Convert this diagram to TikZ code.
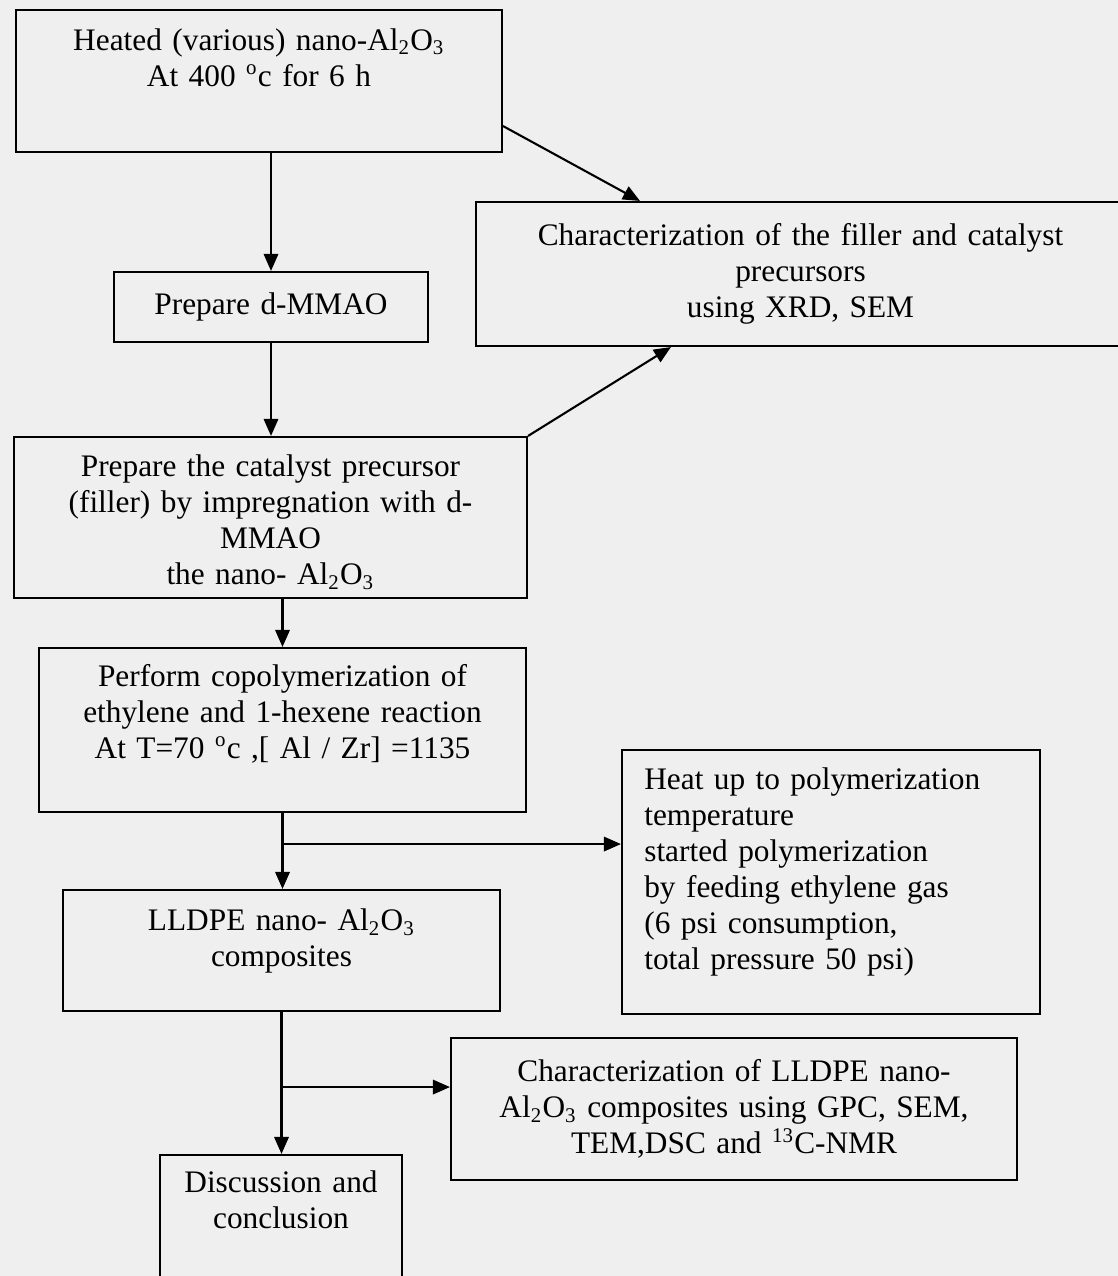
\documentclass[tikz,border=0pt]{standalone}
\usepackage{fontspec}
\setmainfont{Liberation Serif}
\usepackage{tikz}
\usepackage{xcolor}
\usetikzlibrary{math, calc, arrows.meta}

\definecolor{scan}{RGB}{239,239,239}

\tikzset{
  box/.style 2 args={draw, line width=0.8pt, align=center, inner xsep=4pt, inner ysep=6pt,
    minimum width=#1*0.383pt, minimum height=#2*0.383pt, text width=#1*0.383pt-8pt},
  flow/.style={line width=0.8pt, -{Triangle[length=6.5pt,width=5.5pt]}}
}

\begin{document}
\begin{tikzpicture}[x=0.383pt, y=-0.383pt, font=\fontsize{12}{13.8}\selectfont]

\tikzmath{
\wide = 1118;
\tall = 1276;
}

\fill[scan] (0,0) rectangle (\wide,\tall);
\useasboundingbox (0,0) rectangle (\wide,\tall);

% left column
\node[box={486}{142}, text depth=32pt] (heat) at (259,81)
  {Heated (various) nano-Al\textsubscript{2}O\textsubscript{3}\\At 400 \textsuperscript{o}c for 6 h};
\node[box={314}{70}] (mmao) at (271,307) {Prepare d-MMAO};
\node[box={513}{161}, inner ysep=2pt, text height=13pt, text depth=44.5pt] (precursor) at (270.5,517.5)
  {Prepare the catalyst precursor\\(filler) by impregnation with d-\\MMAO\\the nano- Al\textsubscript{2}O\textsubscript{3}};
\node[box={487}{164}, text depth=42pt] (copoly) at (282.5,730)
  {Perform copolymerization of\\ethylene and 1-hexene reaction\\At T=70 \textsuperscript{o}c ,[ Al / Zr] =1135};
\node[box={437}{121}, text depth=23.5pt] (lldpe) at (281.5,950.5)
  {LLDPE nano- Al\textsubscript{2}O\textsubscript{3}\\composites};
\node[box={242}{150}, text depth=37pt] (discuss) at (281,1230) {Discussion and\\conclusion};

% right column
\node[box={649}{144}] (charfill) at (800.5,274)
  {Characterization of the filler and catalyst\\precursors\\using XRD, SEM};
\node[box={418}{264}, align=left, inner xsep=8.4pt, text width=143pt, text depth=79pt] (heatup) at (831,882)
  {Heat up to polymerization\\temperature\\started polymerization\\by feeding ethylene gas\\(6 psi consumption,\\total pressure 50 psi)};
\node[box={566}{142}] (charcomp) at (734,1109)
  {Characterization of LLDPE nano-\\Al\textsubscript{2}O\textsubscript{3} composites using GPC, SEM,\\TEM,DSC and \textsuperscript{13}C-NMR};

\draw[flow] (mmao.north |- heat.south) -- (mmao.north);
\draw[flow] ($(heat.south east)+(0,-27)$) -- ($(charfill.north west)+(165,0)$);
\draw[flow] (mmao.south) -- (mmao.south |- precursor.north);
\draw[flow] (precursor.north east) -- ($(charfill.south west)+(196,0)$);
\draw[flow] (copoly.north |- precursor.south) -- (copoly.north);

\draw[flow] (copoly.south) -- (copoly.south |- lldpe.north);
\coordinate (split1) at ($(copoly.south)+(0,31)$);
\draw[flow] (split1) -- (split1 -| heatup.west);

\draw[flow] (lldpe.south) -- (lldpe.south |- discuss.north);
\coordinate (split2) at ($(lldpe.south)+(0,75)$);
\draw[flow] (split2) -- (split2 -| charcomp.west);

\end{tikzpicture}
\end{document}
